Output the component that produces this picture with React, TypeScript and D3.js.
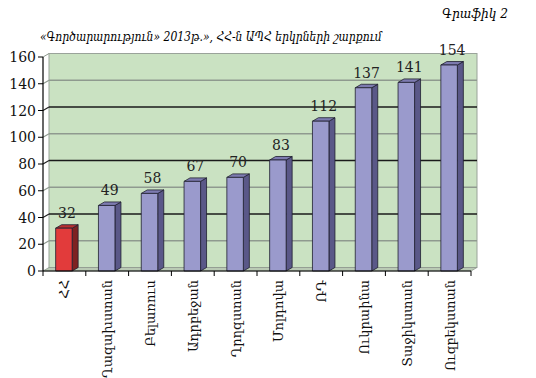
import React from "react";
import * as d3 from "d3";

const categories = ["ՀՀ", "Ղազախստան", "Բելառուս", "Ադրբեջան", "Ղրղզստան", "Մոլդովա", "ՌԴ", "Ուկրաինա", "Տաջիկստան", "Ուզբեկստան"];
const values = [32, 49, 58, 67, 70, 83, 112, 137, 141, 154];
const yTicks = [0, 20, 40, 60, 80, 100, 120, 140, 160];
const highlight = ["ՀՀ"];
const title = "«Գործարարություն» 2013թ.», ՀՀ-ն ԱՊՀ երկրների շարքում";
const caption = "Գրաֆիկ 2";

const W = 536, H = 378;
const left = 43, right = 471, top = 57, bottom = 271;
const DX = 6, DY = -3.5;
const FONT = "'DejaVu Serif', 'Liberation Serif', serif";
const FONTC = "'DejaVu Serif Condensed', 'DejaVu Serif', serif";

export default function App() {
  const x = d3.scaleBand<string>().domain(categories).range([left, right]).paddingInner(0).paddingOuter(0);
  const y = d3.scaleLinear().domain([0, 160]).range([bottom, top]);
  const bw = 16.5;
  const darkGrid = new Set([40, 80, 120]);

  return (
    <svg width={W} height={H} style={{ position: "absolute", left: 0, top: 0, background: "#fff" }}>
      <text x={508} y={18} textAnchor="end" fontFamily={FONTC} fontStyle="italic" fontSize={13.5}>{caption}</text>
      <text x={40} y={41} fontFamily={FONTC} fontStyle="italic" fontSize={12}>{title}</text>

      {/* back wall */}
      <rect x={left + DX} y={y(160) + DY} width={right - left} height={bottom - top} fill="#cae2c2" stroke="#9aa39a" strokeWidth={1} />
      {/* floor */}
      <path d={`M${left},${bottom} L${right},${bottom} L${right + DX},${bottom + DY} L${left + DX},${bottom + DY} Z`} fill="#b9c9b4" stroke="#8e988e" strokeWidth={0.8} />
      {/* gridlines */}
      {yTicks.filter(t => t > 0 && t < 160).map(t => (
        <g key={t}>
          <line x1={left} y1={y(t)} x2={left + DX} y2={y(t) + DY} stroke={darkGrid.has(t) ? "#222" : "#8f9a8f"} strokeWidth={1.2} />
          <line x1={left + DX} y1={y(t) + DY} x2={right + DX} y2={y(t) + DY} stroke={darkGrid.has(t) ? "#1a1a1a" : "#8f9a8f"} strokeWidth={1.3} />
        </g>
      ))}
      <line x1={left} y1={top} x2={left + DX} y2={top + DY} stroke="#8f9a8f" strokeWidth={1} />

      {/* bars */}
      {categories.map((c, i) => {
        const cx = (x(c) as number) + x.bandwidth() / 2 - 0.5;
        const x0 = cx - bw / 2, x1 = cx + bw / 2;
        const yt = y(values[i]);
        const red = highlight.includes(c);
        const front = red ? "#e23b3b" : "#9a9acc";
        const side = red ? "#7e2222" : "#5a5888";
        const topc = red ? "#b83030" : "#7d7bb0";
        return (
          <g key={c} stroke="#1e1e2e" strokeWidth={0.8} strokeLinejoin="round">
            <path d={`M${x1},${bottom} L${x1 + DX},${bottom + DY} L${x1 + DX},${yt + DY} L${x1},${yt} Z`} fill={side} />
            <path d={`M${x0},${yt} L${x0 + DX},${yt + DY} L${x1 + DX},${yt + DY} L${x1},${yt} Z`} fill={topc} />
            <rect x={x0} y={yt} width={bw} height={bottom - yt} fill={front} />
            <text x={cx + 3} y={yt - 10} textAnchor="middle" fontFamily={FONT} fontSize={14} fill="#222" stroke="none">{values[i]}</text>
          </g>
        );
      })}

      {/* axes */}
      <line x1={left} y1={top} x2={left} y2={bottom} stroke="#000" strokeWidth={1.2} />
      <line x1={left} y1={bottom} x2={right} y2={bottom} stroke="#000" strokeWidth={1.2} />
      {yTicks.map(t => (
        <g key={t}>
          <line x1={left - 5} y1={y(t)} x2={left} y2={y(t)} stroke="#000" strokeWidth={1} />
          <text x={left - 7} y={y(t) + 5} textAnchor="end" fontFamily={FONT} fontSize={14} fill="#111">{t}</text>
        </g>
      ))}
      {d3.range(categories.length + 1).map(i => (
        <line key={i} x1={left + i * x.step()} y1={bottom} x2={left + i * x.step()} y2={bottom + 5} stroke="#000" strokeWidth={1} />
      ))}
      {categories.map(c => {
        const cx = (x(c) as number) + x.bandwidth() / 2 + 5;
        return (
          <text key={c} transform={`translate(${cx},${280}) rotate(-90)`} textAnchor="end" fontFamily={FONT} fontSize={13} fill="#111">{c}</text>
        );
      })}
    </svg>
  );
}
